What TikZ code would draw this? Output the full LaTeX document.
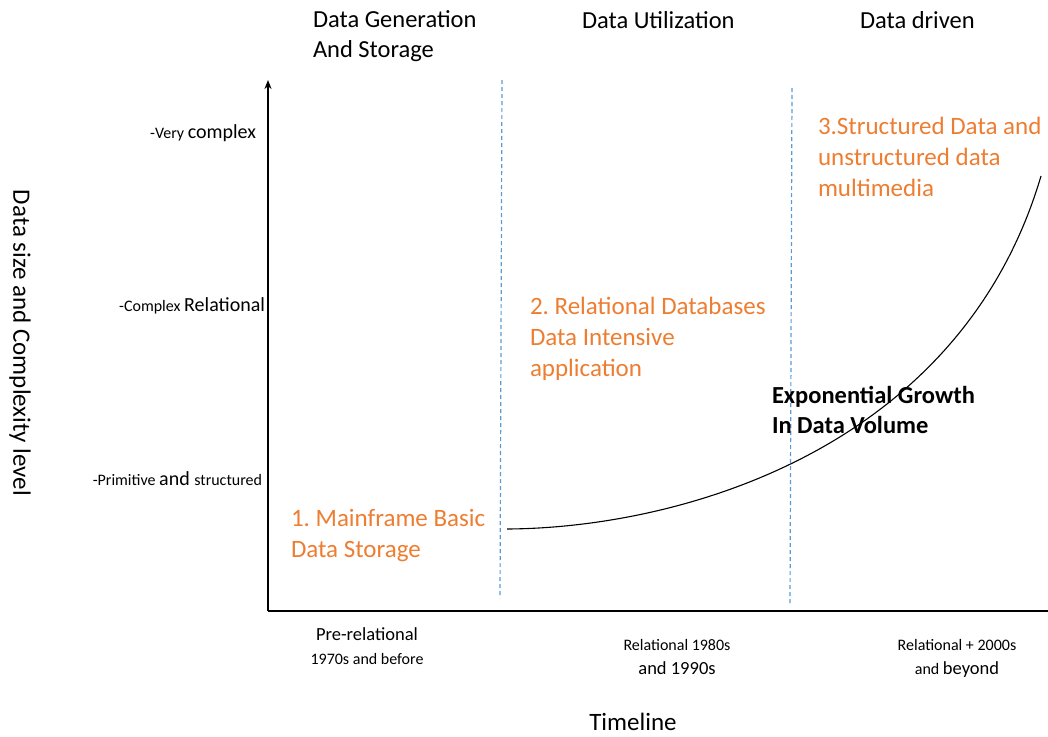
\documentclass[tikz,border=0pt]{standalone}
\usepackage{fontspec}
\setmainfont{Carlito}
\usetikzlibrary{arrows.meta}
\definecolor{accent}{RGB}{237,125,49}
\definecolor{divider}{RGB}{91,155,213}
\newcommand{\smallsz}{\fontsize{16}{20}\selectfont}
\newcommand{\bigsz}{\fontsize{20}{24}\selectfont}
\newcommand{\erabig}{\fontsize{18.5}{24}\selectfont}
\frenchspacing
\begin{document}
\begin{tikzpicture}[x=1pt,y=-1pt,
  every node/.style={inner sep=0pt, outer sep=0pt},
  heading/.style={font=\fontsize{24.5}{30}\selectfont, align=left, anchor=north west},
  phase/.style={font=\fontsize{25}{31}\selectfont, text=accent, align=left, anchor=north west},
  growth/.style={font=\bfseries\fontsize{24.5}{30}\selectfont, align=left, anchor=north west},
  level/.style={anchor=base east},
  era/.style={align=center, anchor=north, font=\fontsize{16}{24}\selectfont},
  axis/.style={line width=2.5pt},
  split/.style={divider, line width=1.2pt, dash pattern=on 4pt off 3pt}]
\useasboundingbox (0,0) rectangle (1048,736);

% axes
\coordinate (origin) at (268,611);
\coordinate (ytop) at (268,80);
\coordinate (xend) at (1048,611);
\draw[axis, -{Stealth[length=9pt,width=7pt]}] (origin) -- (ytop);
\draw[axis] (origin) -- (xend);

% era dividers
\coordinate (d1t) at (502,80);
\coordinate (d1b) at (500,598);
\coordinate (d2t) at (792,88);
\coordinate (d2b) at (790,605);
\draw[split] (d1t) -- (d1b);
\draw[split] (d2t) -- (d2b);

% growth curve
\coordinate (gstart) at (507,529);
\coordinate (gend) at (1041,176);
\draw[line width=1.1pt] (gstart) .. controls (680,528) and (960,450) .. (gend);

% column headings
\node[heading] (h1) at (313,11) {Data Generation\\And Storage};
\node[heading] (h2) at (582,11) {Data Utilization};
\node[heading] (h3) at (860,11) {Data driven};

% complexity levels
\node[level] (l3) at (256,138) {\smallsz -Very \bigsz complex};
\node[level] (l2) at (265,311) {\smallsz -Complex \bigsz Relational};
\node[level] (l1) at (262,485) {\smallsz -Primitive \bigsz and \smallsz structured};

% phases
\node[phase] (p1) at (291,509) {1. Mainframe Basic\\Data Storage};
\node[phase] (p2) at (530,297) {2. Relational Databases\\Data Intensive\\application};
\node[phase] (p3) at (818,117) {3.Structured Data and\\unstructured data\\multimedia};
\node[growth] (g) at (772,386) {Exponential Growth\\In Data Volume};

% timeline eras
\node[era] (e1) at (367,628) {\erabig Pre-relational\\1970s and before};
\node[era] (e2) at (677,639) {Relational 1980s\\\erabig and 1990s};
\node[era] (e3) at (957,639) {Relational + 2000s\\and \erabig beyond};

% axis titles
\node[font=\fontsize{25}{30}\selectfont] (xt) at (633,722) {Timeline};
\node[font=\fontsize{25}{30}\selectfont, rotate=-90] (yt) at (20,343) {Data size and Complexity level};
\end{tikzpicture}
\end{document}
